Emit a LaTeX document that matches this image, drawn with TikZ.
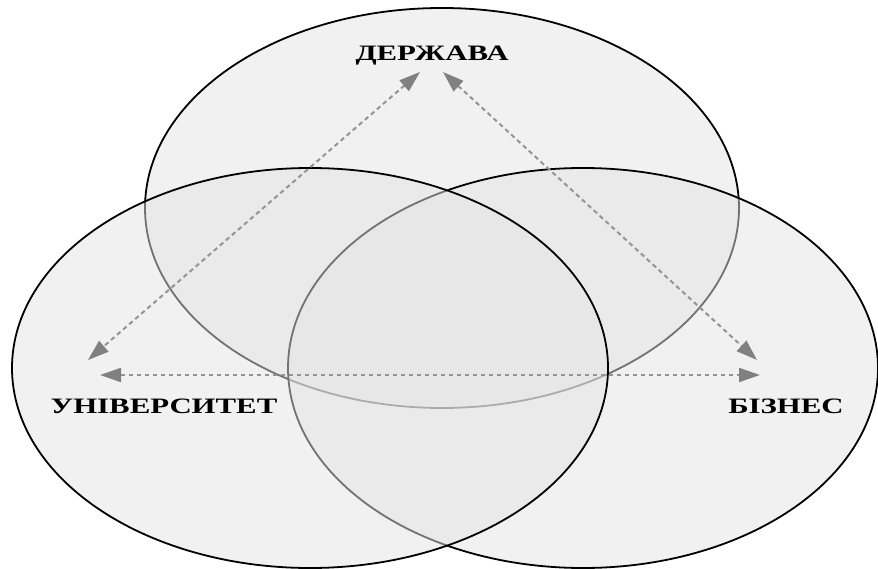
\documentclass[tikz,border=0pt]{standalone}
\usepackage{fontspec}
\setmainfont{Liberation Serif}
\usetikzlibrary{arrows.meta}
\begin{document}
\begin{tikzpicture}[x=1pt,y=-1pt,
  venn/.style={draw=black,line width=1.8pt,fill=black!10,fill opacity=0.5},
  link/.style={draw=black!42,line width=2pt,dash pattern=on 4.5pt off 3.5pt,
    {Triangle[length=21pt,width=14pt,color=black!50]}-{Triangle[length=21pt,width=14pt,color=black!50]}},
  lbl/.style={font=\fontsize{22}{22}\selectfont\bfseries,text=black,inner sep=0pt}]
\useasboundingbox (0,0) rectangle (878,569);
\fill[white] (0,0) rectangle (878,569);
\path[venn] (442,208) ellipse [x radius=297,y radius=200];
\path[venn] (583,368) ellipse [x radius=295,y radius=200];
\path[venn] (310,368) ellipse [x radius=298,y radius=200];
\node[lbl] (d) at (432,56) {\scalebox{1.4}[1]{ДЕРЖАВА}};
\node[lbl] (u) at (164,406) {\scalebox{1.4}[1]{УНІВЕРСИТЕТ}};
\node[lbl] (b) at (786,406) {\scalebox{1.4}[1]{БІЗНЕС}};
\coordinate (dl) at (420,72);
\coordinate (dr) at (443,72);
\coordinate (ul) at (88,360);
\coordinate (uh) at (100,375);
\coordinate (bl) at (757,360);
\coordinate (bh) at (760,375);
\draw[link] (dl) -- (ul);
\draw[link] (dr) -- (bl);
\draw[link] (uh) -- (bh);
\end{tikzpicture}
\end{document}
